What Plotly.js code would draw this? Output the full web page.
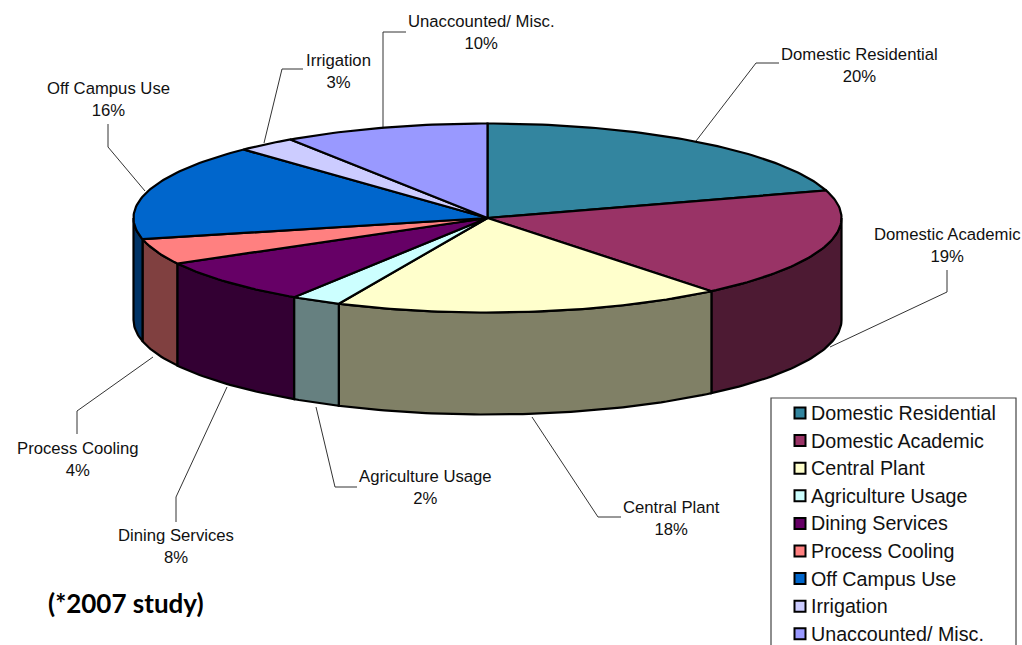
<!DOCTYPE html>
<html>
<head>
<meta charset="utf-8">
<script src="https://cdn.plot.ly/plotly-3.0.1.min.js"></script>
<style>html,body{margin:0;padding:0;background:#fff;overflow:hidden}</style>
</head>
<body>
<div id="chart" style="width:1022px;height:645px"></div>
<script>
// Data
const categories = ["Domestic Residential","Domestic Academic","Central Plant","Agriculture Usage","Dining Services","Process Cooling","Off Campus Use","Irrigation","Unaccounted/ Misc."];
const sliceValues = [20.3,18.8,17.8,2.3,7.8,4.4,16.5,2.7,9.4];
const percentLabels = ["20%","19%","18%","2%","8%","4%","16%","3%","10%"];
const topColors = ["#33859F","#993366","#FFFFCC","#CCFFFF","#660066","#FF8080","#0066CC","#CCCCFF","#9999FF"];
const wallColors = ["#1A4350","#4D1A33","#808066","#668080","#330033","#804040","#003366","#666680","#4D4D80"];
const labelX = [859.5,947,671.5,425.5,176,78,108.5,338,481];
const labelY = [65,245,518.5,487.5,546.5,459,99,71,32];
const leaderX = [[696,756,779],[830,947,947],[532,598,621],[316,335,357],[227,176,176],[153,77,77],[145,108,108],[264,282,303],[383,383,406]];
const leaderY = [[141,63,63],[347,292,270],[417,517,517],[407,487,487],[387,497,522],[357,411,434],[191,147,124],[143,69,69],[127,32,32]];

// Projection of the tilted pie
const cx = 487.5, cy = 218, rx = 354, ry = 94.5, depth = 102;
const total = sliceValues.reduce((a,b)=>a+b,0);
const px = t => cx + rx*Math.sin(t), py = t => cy - ry*Math.cos(t);
const arc = (a,b) => { const n = Math.max(2,Math.ceil((b-a)*180/Math.PI)), r=[]; for(let i=0;i<=n;i++) r.push(a+(b-a)*i/n); return r; };

const traces = [], shapes = [], annotations = [];
let cum = 0;
const spans = sliceValues.map(v => { const a = cum/total*2*Math.PI; cum += v; return [a, cum/total*2*Math.PI]; });

// Side walls (visible for the front half of the pie)
spans.forEach(([a,b],i) => {
  const lo = Math.max(a,Math.PI/2), hi = Math.min(b,3*Math.PI/2);
  if (hi <= lo) return;
  const ts = arc(lo,hi), x = ts.map(px), y = ts.map(py);
  traces.push({type:"scatter",mode:"lines",fill:"toself",fillcolor:wallColors[i],
    x:x.concat(x.slice().reverse(),[x[0]]),
    y:y.concat(y.slice().reverse().map(v=>v+depth),[y[0]]),
    line:{color:"#000",width:2.2},name:categories[i],showlegend:false,hoverinfo:"name"});
});
// Top faces
spans.forEach(([a,b],i) => {
  const ts = arc(a,b);
  traces.push({type:"scatter",mode:"lines",fill:"toself",fillcolor:topColors[i],
    x:[cx].concat(ts.map(px),[cx]), y:[cy].concat(ts.map(py),[cy]),
    line:{color:"#000",width:2.2},name:categories[i],showlegend:false,hoverinfo:"name"});
});
// Leader lines
categories.forEach((c,i)=>traces.unshift({type:"scatter",mode:"lines",x:leaderX[i],y:leaderY[i],
  line:{color:"#333",width:1},showlegend:false,hoverinfo:"skip"}));
// Slice labels
categories.forEach((c,i)=>annotations.push({x:labelX[i],y:labelY[i],xref:"x",yref:"y",showarrow:false,
  text:c+"<br>"+percentLabels[i],align:"center",xanchor:"center",yanchor:"middle",
  font:{family:"Liberation Sans, Arial, sans-serif",size:16.7,color:"#111"}}));
// Key
const keyX = 800, keyY0 = 413, keyStep = 27.6;
shapes.push({type:"rect",xref:"x",yref:"y",x0:771,x1:1016,y0:398,y1:660,line:{color:"#444",width:1.2},fillcolor:"#fff",layer:"below"});
traces.push({type:"scatter",mode:"markers",x:categories.map(()=>keyX),y:categories.map((c,i)=>keyY0+i*keyStep),
  marker:{symbol:"square",size:11,color:topColors,line:{color:"#000",width:2}},showlegend:false,hoverinfo:"skip"});
categories.forEach((c,i)=>annotations.push({x:809,y:keyY0+i*keyStep,xref:"x",yref:"y",showarrow:false,text:c,
  xanchor:"left",yanchor:"middle",font:{family:"Liberation Sans, Arial, sans-serif",size:19.7,color:"#111"}}));
// Footnote
annotations.push({x:46,y:603,xref:"x",yref:"y",showarrow:false,text:"<b>(*2007 study)</b>",xanchor:"left",yanchor:"middle",
  font:{family:"Lato, sans-serif",size:26,color:"#000"}});

Plotly.newPlot("chart",traces,{
  width:1022,height:645,margin:{l:0,r:0,t:0,b:0,autoexpand:false},
  paper_bgcolor:"#fff",plot_bgcolor:"#fff",showlegend:false,
  xaxis:{range:[0,1022],visible:false,fixedrange:true},
  yaxis:{range:[645,0],visible:false,fixedrange:true},
  shapes,annotations
},{displayModeBar:false});
</script>
</body>
</html>
